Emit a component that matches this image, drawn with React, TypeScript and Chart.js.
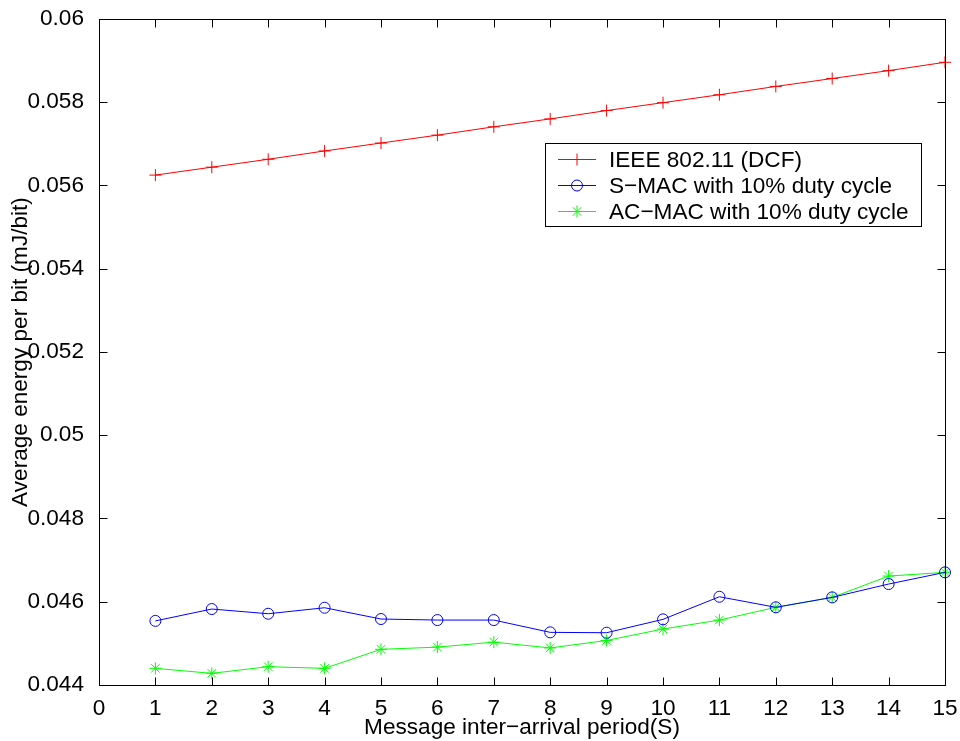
import React, { useEffect, useRef } from "react";
import { Chart, registerables } from "chart.js";
import { drawPoint } from "chart.js/helpers";

Chart.register(...registerables);

// ---- data ----
const xValues = [1, 2, 3, 4, 5, 6, 7, 8, 9, 10, 11, 12, 13, 14, 15];
const ieeeValues = [
  0.05625, 0.05644, 0.05663, 0.05683, 0.05702, 0.05721, 0.05741, 0.0576,
  0.0578, 0.05799, 0.05818, 0.05838, 0.05857, 0.05876, 0.05896,
];
const smacValues = [
  0.04554, 0.045825, 0.045712, 0.045856, 0.045585, 0.04556, 0.04556, 0.045265,
  0.045256, 0.045577, 0.04612, 0.045866, 0.046105, 0.046425, 0.046706,
];
const acmacValues = [
  0.0444, 0.04428, 0.04444, 0.0444, 0.044857, 0.04491, 0.04503, 0.04489,
  0.04507, 0.045345, 0.04556, 0.045866, 0.046105, 0.046617, 0.046706,
];
const seriesLabels = [
  "IEEE 802.11 (DCF)",
  "S\u2212MAC with 10% duty cycle",
  "AC\u2212MAC with 10% duty cycle",
];
const xMin = 0;
const xMax = 15;
const xStep = 1;
const yMin = 0.044;
const yMax = 0.06;
const yStep = 0.002;
const xTitle = "Message inter\u2212arrival period(S)";
const yTitle = "Average energy per bit (mJ/bit)";

const FONT = "'Liberation Sans', Arial, Helvetica, sans-serif";
const FS = 22.6;

const framePlugin = {
  id: "frame",
  afterDatasetsDraw(chart: any) {
    const { ctx, chartArea, scales } = chart;
    const L = Math.round(chartArea.left) + 0.5;
    const R = Math.round(chartArea.right) + 0.5;
    const T = Math.round(chartArea.top) + 0.5;
    const B = Math.round(chartArea.bottom) + 0.5;
    const tl = 8;
    ctx.save();
    ctx.strokeStyle = "#000";
    ctx.lineWidth = 1;
    ctx.beginPath();
    scales.x.ticks.forEach((t: any) => {
      const px = Math.round(scales.x.getPixelForValue(t.value)) + 0.5;
      ctx.moveTo(px, B);
      ctx.lineTo(px, B - tl);
      ctx.moveTo(px, T);
      ctx.lineTo(px, T + tl);
    });
    scales.y.ticks.forEach((t: any) => {
      const py = Math.round(scales.y.getPixelForValue(t.value)) + 0.5;
      ctx.moveTo(L, py);
      ctx.lineTo(L + tl, py);
      ctx.moveTo(R, py);
      ctx.lineTo(R - tl, py);
    });
    ctx.stroke();
    ctx.strokeRect(L, T, R - L, B - T);
    ctx.restore();
  },
  afterDraw(chart: any) {
    const { ctx } = chart;
    const bx = 545.5;
    const by = 143.5;
    const bw = 376;
    const bh = 83;
    ctx.save();
    ctx.fillStyle = "#fff";
    ctx.fillRect(bx, by, bw, bh);
    ctx.strokeStyle = "#000";
    ctx.lineWidth = 1;
    ctx.strokeRect(bx, by, bw, bh);
    const rows = [159.5, 185.5, 211.5];
    chart.data.datasets.forEach((ds: any, i: number) => {
      const y = rows[i];
      ctx.strokeStyle = ds.borderColor;
      ctx.lineWidth = 1;
      ctx.beginPath();
      ctx.moveTo(558, y);
      ctx.lineTo(596, y);
      ctx.stroke();
      ctx.fillStyle = "rgba(0,0,0,0)";
      drawPoint(
        ctx,
        { pointStyle: ds.pointStyle, radius: ds.pointRadius, rotation: 0, borderWidth: 1 },
        577,
        y
      );
      ctx.fillStyle = "#000";
      ctx.font = `${FS}px ${FONT}`;
      ctx.textAlign = "left";
      ctx.textBaseline = "middle";
      ctx.fillText(ds.label, 609, y + 1);
    });
    ctx.restore();
  },
};

export default function App() {
  const canvasRef = useRef<HTMLCanvasElement | null>(null);

  useEffect(() => {
    document.body.style.margin = "0";
    const canvas = canvasRef.current;
    if (!canvas) return;
    const mk = (arr: number[]) => xValues.map((x, i) => ({ x, y: arr[i] }));
    const chart = new Chart(canvas, {
      type: "line",
      data: {
        datasets: [
          {
            label: seriesLabels[0],
            data: mk(ieeeValues),
            borderColor: "#ff0000",
            backgroundColor: "rgba(0,0,0,0)",
            borderWidth: 1,
            pointStyle: "cross",
            pointRadius: 6,
            pointBorderWidth: 1,
            pointBackgroundColor: "rgba(0,0,0,0)",
            tension: 0,
            clip: false as any,
          },
          {
            label: seriesLabels[1],
            data: mk(smacValues),
            borderColor: "#0000ff",
            backgroundColor: "rgba(0,0,0,0)",
            borderWidth: 1,
            pointStyle: "circle",
            pointRadius: 5.5,
            pointBorderWidth: 1,
            pointBackgroundColor: "rgba(0,0,0,0)",
            tension: 0,
            clip: false as any,
          },
          {
            label: seriesLabels[2],
            data: mk(acmacValues),
            borderColor: "#00ff00",
            backgroundColor: "rgba(0,0,0,0)",
            borderWidth: 1,
            pointStyle: "star",
            pointRadius: 6,
            pointBorderWidth: 1,
            pointBackgroundColor: "rgba(0,0,0,0)",
            tension: 0,
            clip: false as any,
          },
        ],
      },
      options: {
        responsive: false,
        animation: false,
        events: [],
        layout: { padding: { left: 0, right: 15, top: 19, bottom: 0 } },
        plugins: {
          legend: { display: false },
          tooltip: { enabled: false },
        },
        scales: {
          x: {
            type: "linear",
            min: xMin,
            max: xMax,
            grid: { display: false },
            border: { display: false },
            ticks: {
              stepSize: xStep,
              color: "#000",
              font: { family: FONT, size: FS },
              padding: 2,
              maxRotation: 0,
              autoSkip: false,
            },
            title: {
              display: true,
              text: xTitle,
              color: "#000",
              font: { family: FONT, size: FS },
              padding: { top: 0, bottom: 0 },
            },
            afterFit: (s: any) => {
              s.height = 56;
              s.paddingLeft = 0;
              s.paddingRight = 0;
            },
          },
          y: {
            type: "linear",
            min: yMin,
            max: yMax,
            grid: { display: false },
            border: { display: false },
            ticks: {
              stepSize: yStep,
              color: "#000",
              font: { family: FONT, size: FS },
              padding: 7,
              autoSkip: false,
              callback: (v: any) => String(parseFloat(Number(v).toFixed(4))),
            },
            title: {
              display: true,
              text: yTitle,
              color: "#000",
              font: { family: FONT, size: FS },
              padding: { top: 7, bottom: 0 },
            },
            afterFit: (s: any) => {
              s.width = 99;
              s.paddingTop = 0;
              s.paddingBottom = 0;
            },
          },
        },
      },
      plugins: [framePlugin],
    });
    return () => chart.destroy();
  }, []);

  return (
    <div style={{ position: "absolute", left: 0, top: 0, width: 960, height: 741, background: "#fff" }}>
      <canvas ref={canvasRef} width={960} height={741} style={{ display: "block" }} />
    </div>
  );
}
